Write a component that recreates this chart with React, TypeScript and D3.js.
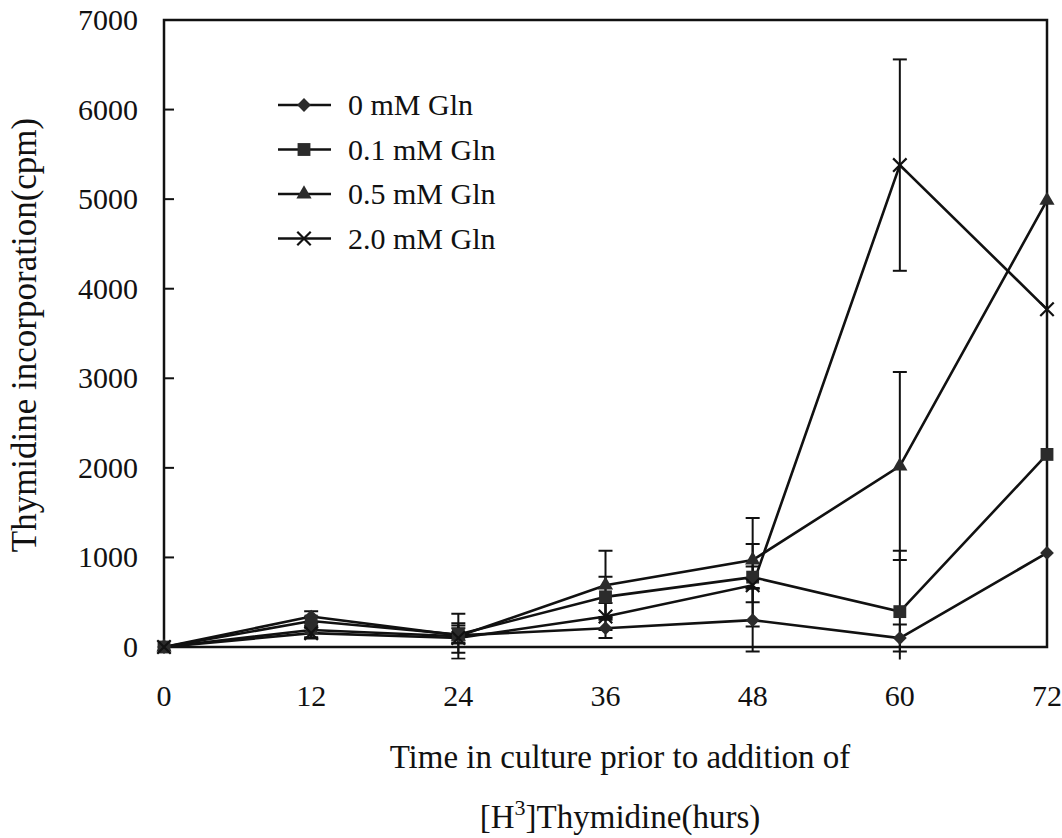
import React from "react";
import * as d3 from "d3";

const hours = [0, 12, 24, 36, 48, 60, 72];
const yTicks = [0, 1000, 2000, 3000, 4000, 5000, 6000, 7000];

const seriesNames = ["0 mM Gln", "0.1 mM Gln", "0.5 mM Gln", "2.0 mM Gln"];
const gln0 = [0, 340, 130, 210, 300, 100, 1050];
const gln01 = [0, 290, 140, 560, 780, 395, 2150];
const gln05 = [0, 190, 120, 690, 970, 2020, 4985];
const gln20 = [0, 155, 100, 340, 690, 5380, 3770];
const err0 = [0, 60, 80, 110, 350, 150, 0];
const err01 = [0, 50, 100, 225, 120, 680, 0];
const err05 = [0, 80, 250, 385, 470, 1050, 0];
const err20 = [0, 60, 165, 150, 460, 1180, 0];

const seriesValues = [gln0, gln01, gln05, gln20];
const seriesErrors = [err0, err01, err05, err20];
const markerKinds = ["diamond", "square", "triangle", "times"];

const W = 1062;
const H = 838;
const left = 164;
const right = 1047;
const top = 20;
const bottom = 647;
const font = "'Liberation Serif', 'Times New Roman', serif";

const x = d3.scaleLinear().domain([0, 72]).range([left, right]);
const y = d3.scaleLinear().domain([0, 7000]).range([bottom, top]);

function Marker({ kind, cx, cy }: { kind: string; cx: number; cy: number }) {
  const fill = "#2b2b2b";
  if (kind === "diamond") {
    const p = d3.symbol(d3.symbolSquare, 95)();
    return <path d={p || ""} transform={`translate(${cx},${cy}) rotate(45)`} fill={fill} />;
  }
  if (kind === "square") {
    const p = d3.symbol(d3.symbolSquare, 165)();
    return <path d={p || ""} transform={`translate(${cx},${cy})`} fill={fill} />;
  }
  if (kind === "triangle") {
    const p = d3.symbol(d3.symbolTriangle, 100)();
    return <path d={p || ""} transform={`translate(${cx},${cy})`} fill={fill} />;
  }
  const p = d3.symbol(d3.symbolTimes, 120)();
  return (
    <path d={p || ""} transform={`translate(${cx},${cy})`} fill="none" stroke="#111" strokeWidth={2.2} />
  );
}

export default function App() {
  const line = d3
    .line<number>()
    .x((_, i) => x(hours[i]))
    .y((d) => y(d));

  return (
    <svg
      width={W}
      height={H}
      style={{ position: "absolute", left: 0, top: 0, background: "#fff" }}
      fontFamily={font}
    >
      <defs>
        <clipPath id="errClip">
          <rect x={left - 20} y={0} width={W - left + 20} height={y(-140)} />
        </clipPath>
      </defs>

      {/* frame */}
      <rect x={left} y={top} width={right - left} height={bottom - top} fill="none" stroke="#111" strokeWidth={2.5} />

      {/* y ticks + labels */}
      {yTicks.map((t) => (
        <g key={t}>
          {t > 0 && t < 7000 && (
            <line x1={left} x2={left + 10} y1={y(t)} y2={y(t)} stroke="#111" strokeWidth={2} />
          )}
          <text x={138} y={y(t) + 10} textAnchor="end" fontSize={30} fill="#111">
            {t}
          </text>
        </g>
      ))}

      {/* x labels */}
      {hours.map((h) => (
        <text key={h} x={x(h)} y={706} textAnchor="middle" fontSize={30} fill="#111">
          {h}
        </text>
      ))}

      {/* error bars */}
      <g clipPath="url(#errClip)" stroke="#111" strokeWidth={2}>
        {seriesValues.map((vals, si) =>
          vals.map((v, i) => {
            const e = seriesErrors[si][i];
            if (!e) return null;
            const cx = x(hours[i]);
            return (
              <g key={`${si}-${i}`}>
                <line x1={cx} x2={cx} y1={y(v + e)} y2={y(v - e)} />
                <line x1={cx - 7} x2={cx + 7} y1={y(v + e)} y2={y(v + e)} />
                <line x1={cx - 7} x2={cx + 7} y1={y(v - e)} y2={y(v - e)} />
              </g>
            );
          })
        )}
      </g>

      {/* series lines */}
      {seriesValues.map((vals, si) => (
        <path key={si} d={line(vals) || ""} fill="none" stroke="#111" strokeWidth={2.6} />
      ))}

      {/* markers */}
      {seriesValues.map((vals, si) =>
        vals.map((v, i) => <Marker key={`${si}-${i}`} kind={markerKinds[si]} cx={x(hours[i])} cy={y(v)} />)
      )}

      {/* legend */}
      {seriesNames.map((name, i) => {
        const ly = 105 + i * 44.5;
        return (
          <g key={name}>
            <line x1={278} x2={331} y1={ly} y2={ly} stroke="#111" strokeWidth={2.4} />
            <Marker kind={markerKinds[i]} cx={304} cy={ly} />
            <text x={348} y={ly + 10} fontSize={30} fill="#111">
              {name}
            </text>
          </g>
        );
      })}

      {/* axis titles */}
      <text
        transform={`translate(36,335) rotate(-90)`}
        textAnchor="middle"
        fontSize={35}
        fill="#111"
      >
        Thymidine incorporation(cpm)
      </text>
      <text x={620} y={768} textAnchor="middle" fontSize={33} fill="#111">
        Time in culture prior to addition of
      </text>
      <text x={620} y={828} textAnchor="middle" fontSize={33} fill="#111">
        [H<tspan dy={-13} fontSize={22}>3</tspan>
        <tspan dy={13}>]Thymidine(hurs)</tspan>
      </text>
    </svg>
  );
}
